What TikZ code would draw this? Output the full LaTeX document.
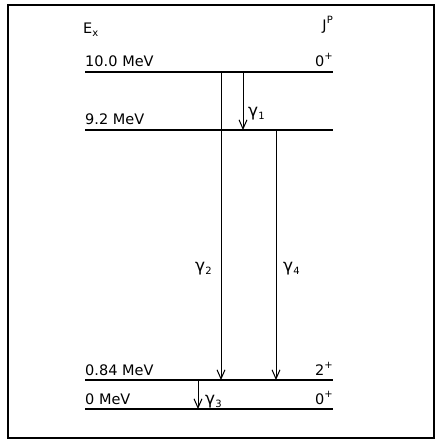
\documentclass[tikz,border=0pt]{standalone}
\usepackage{fontspec}
\setmainfont{DejaVu Sans}
\usetikzlibrary{arrows.meta}
\newcommand{\mysub}[1]{\raisebox{-0.25em}{\fontsize{10}{12}\selectfont #1}}
\newcommand{\mysup}[1]{\raisebox{0.45em}{\fontsize{10}{12}\selectfont #1}}
\newcommand{\gam}{{\fontsize{17}{18}\selectfont γ}}
\begin{document}
\begin{tikzpicture}[x=1pt,y=-1pt,
  level/.style={line width=1.7pt},
  trans/.style={line width=0.9pt,-{Straight Barb[length=9pt,width=8pt,line width=1pt]}},
  lbl/.style={inner sep=0pt,font=\fontsize{14.5}{16}\selectfont},
  frame/.style={line width=1.2pt}]
\useasboundingbox (0,0) rectangle (436,440);
\draw[frame] (8,5) rectangle (434,438);
% levels
\coordinate (L10a) at (85,72);  \coordinate (L10b) at (333,72);
\coordinate (L9a)  at (85,130); \coordinate (L9b)  at (333,130);
\coordinate (L1a)  at (85,380); \coordinate (L1b)  at (333,380);
\coordinate (L0a)  at (85,409); \coordinate (L0b)  at (333,409);
\draw[level] (L10a) -- (L10b);
\draw[level] (L9a) -- (L9b);
\draw[level] (L1a) -- (L1b);
\draw[level] (L0a) -- (L0b);
% headers
\node[lbl,anchor=base west] (ex) at (83,33) {E\mysub{x}};
\node[lbl,anchor=base east] (jp) at (333,30) {J\mysup{P}};
% level labels
\node[lbl,anchor=base west] (e10) at (85,66) {10.0\,\,MeV};
\node[lbl,anchor=base east] (j10) at (333,66) {0\mysup{+}};
\node[lbl,anchor=base west] (e9) at (85,124) {9.2 MeV};
\node[lbl,anchor=base west] (e1) at (85,375) {0.84 MeV};
\node[lbl,anchor=base east] (j1) at (333,375) {2\mysup{+}};
\node[lbl,anchor=base west] (e0) at (85,404) {0 MeV};
\node[lbl,anchor=base east] (j0) at (333,404) {0\mysup{+}};
% transitions
\coordinate (g2s) at (221,72);  \coordinate (g2e) at (221,380);
\coordinate (g1s) at (243,72);  \coordinate (g1e) at (243,130);
\coordinate (g4s) at (276,130); \coordinate (g4e) at (276,380);
\coordinate (g3s) at (198,380); \coordinate (g3e) at (198,409);
\draw[trans] (g2s) -- (g2e);
\draw[trans] (g1s) -- (g1e);
\draw[trans] (g4s) -- (g4e);
\draw[trans] (g3s) -- (g3e);
\node[lbl,anchor=base west] (t1) at (248,116) {\gam\mysub{1}};
\node[lbl,anchor=base west] (t2) at (195,271) {\gam\mysub{2}};
\node[lbl,anchor=base west] (t4) at (283,271) {\gam\mysub{4}};
\node[lbl,anchor=base west] (t3) at (205,404) {\gam\mysub{3}};
\end{tikzpicture}
\end{document}
